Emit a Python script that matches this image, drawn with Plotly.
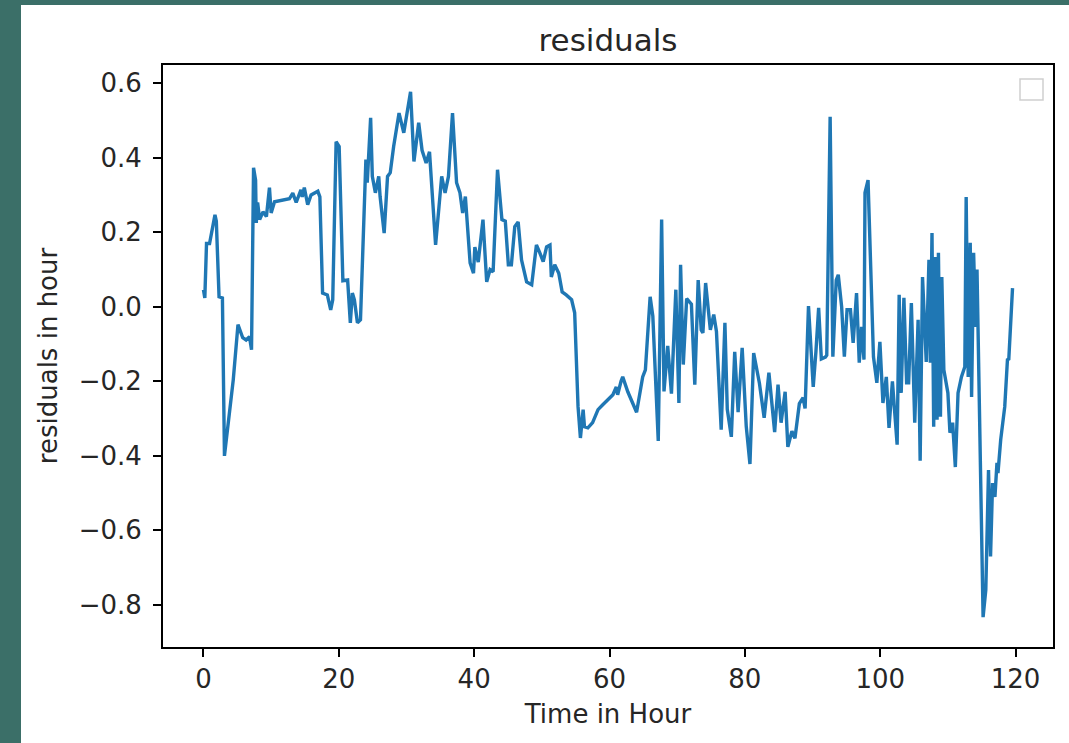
import plotly.graph_objects as go

time_hours = [
    0.0, 0.2, 0.45, 0.9, 1.7, 1.9, 2.3, 2.8, 3.1, 3.9, 4.4, 5.1, 5.8, 6.3, 6.8, 7.1,
    7.4, 7.7, 7.8, 8.0, 8.3, 8.8, 9.3, 9.75, 10.0, 10.5, 11.5, 12.7, 13.2, 13.7, 14.4,
    14.6, 14.9, 15.4, 15.9, 16.4, 16.9, 17.2, 17.6, 18.3, 18.8, 19.1, 19.6, 20.05, 20.6,
    21.3, 21.7, 22.0, 22.3, 22.75, 23.2, 24.0, 24.2, 24.7, 24.95, 25.4, 25.9, 26.1, 26.7,
    27.2, 27.6, 28.1, 28.9, 29.6, 30.1, 30.6, 31.1, 31.8, 32.3, 32.9, 33.4, 34.3, 34.8,
    35.2, 35.7, 36.2, 36.8, 37.4, 37.9, 38.3, 38.7, 39.4, 39.9, 40.1, 40.6, 41.3, 41.85,
    42.35, 42.8, 43.45, 44.1, 44.6, 45.05, 45.5, 46.0, 46.5, 47.0, 47.75, 48.5, 49.2,
    49.7, 50.2, 50.7, 51.2, 51.4, 51.9, 52.5, 53.0, 53.6, 54.4, 54.85, 55.35, 55.7, 56.1,
    56.3, 56.8, 57.5, 58.3, 59.0, 59.75, 60.5, 61.0, 61.2, 61.7, 61.95, 62.7, 63.4, 64.0,
    64.9, 65.3, 66.0, 66.4, 67.2, 67.7, 68.05, 68.6, 69.15, 69.8, 70.25, 70.5, 70.9, 71.4,
    72.1, 72.6, 73.1, 73.55, 73.8, 74.2, 74.9, 75.4, 75.8, 76.5, 77.05, 77.4, 78.0, 78.5,
    79.0, 79.6, 80.2, 80.75, 81.3, 82.15, 82.85, 83.55, 84.4, 84.9, 85.35, 85.95, 86.35,
    86.95, 87.4, 88.05, 88.6, 88.9, 89.4, 89.85, 90.1, 90.5, 90.9, 91.3, 91.9, 92.1, 92.6,
    93.0, 93.5, 93.8, 94.3, 94.7, 95.1, 95.6, 96.0, 96.5, 96.9, 97.25, 97.6, 97.75, 98.2,
    99.0, 99.5, 99.95, 100.4, 100.9, 101.3, 101.8, 102.5, 102.8, 103.1, 103.5, 103.9,
    104.2, 104.6, 105.1, 105.6, 105.9, 106.25, 106.8, 107.2, 107.4, 107.65, 107.9, 108.1,
    108.4, 108.6, 108.9, 109.1, 109.4, 110.0, 110.3, 110.7, 111.1, 111.5, 112.0, 112.5,
    112.7, 113.0, 113.3, 113.5, 113.8, 114.1, 114.3, 114.45, 115.2, 115.6, 116.0, 116.3,
    116.6, 116.95, 117.25, 117.4, 117.8, 118.4, 118.8, 119.0, 119.55,
]

residuals = [
    0.046, 0.024, 0.17, 0.17, 0.247, 0.23, 0.027, 0.024, -0.40, -0.277, -0.196, -0.048,
    -0.083, -0.089, -0.08, -0.115, 0.373, 0.34, 0.225, 0.28, 0.234, 0.255, 0.242, 0.32,
    0.252, 0.282, 0.285, 0.29, 0.305, 0.28, 0.314, 0.295, 0.32, 0.274, 0.30, 0.305, 0.31,
    0.295, 0.037, 0.032, -0.008, 0.019, 0.443, 0.43, 0.07, 0.072, -0.043, 0.037, 0.019,
    -0.043, -0.035, 0.395, 0.333, 0.507, 0.35, 0.306, 0.35, 0.296, 0.198, 0.35, 0.36,
    0.43, 0.52, 0.467, 0.52, 0.577, 0.39, 0.494, 0.42, 0.386, 0.416, 0.166, 0.268, 0.35,
    0.306, 0.35, 0.52, 0.333, 0.306, 0.252, 0.296, 0.118, 0.09, 0.16, 0.12, 0.234, 0.067,
    0.1, 0.094, 0.368, 0.234, 0.23, 0.113, 0.113, 0.215, 0.228, 0.126, 0.067, 0.059,
    0.166, 0.145, 0.121, 0.161, 0.166, 0.08, 0.113, 0.09, 0.04, 0.032, 0.019, -0.016,
    -0.268, -0.352, -0.276, -0.322, -0.325, -0.311, -0.276, -0.263, -0.25, -0.236, -0.215,
    -0.236, -0.2, -0.188, -0.228, -0.255, -0.283, -0.188, -0.169, 0.027, -0.025, -0.36,
    0.234, -0.227, -0.105, -0.233, 0.046, -0.258, 0.113, -0.155, 0.022, 0.007, -0.209,
    0.072, -0.062, -0.07, 0.064, -0.062, -0.021, -0.066, -0.33, -0.043, -0.275, -0.349,
    -0.121, -0.283, -0.11, -0.32, -0.422, -0.124, -0.205, -0.298, -0.177, -0.336, -0.209,
    -0.311, -0.228, -0.376, -0.334, -0.353, -0.26, -0.244, -0.273, 0.002, -0.13, -0.215,
    -0.12, -0.003, -0.14, -0.135, -0.13, 0.51, -0.134, 0.072, 0.086, 0.0, -0.134, -0.008,
    -0.008, -0.097, 0.037, -0.15, -0.054, -0.142, 0.306, 0.34, -0.134, -0.204, -0.094,
    -0.258, -0.188, -0.325, -0.2, -0.37, 0.032, -0.231, 0.024, -0.204, -0.204, 0.01,
    -0.311, -0.035, -0.413, 0.08, -0.148, 0.126, -0.15, 0.198, -0.322, 0.134, -0.303,
    0.145, -0.295, 0.08, -0.169, -0.231, -0.338, -0.311, -0.43, -0.231, -0.188, -0.161,
    0.295, -0.188, 0.172, -0.242, 0.145, -0.054, 0.1, -0.07, -0.833, -0.76, -0.438, -0.67,
    -0.473, -0.51, -0.419, -0.446, -0.357, -0.268, -0.142, -0.14, 0.05,
]

chart_title = "residuals"
x_label = "Time in Hour"
y_label = "residuals in hour"

W, H = 1069, 743
L, R, T, B = 163, 1053, 65, 647
pw, ph = R - L, B - T


def px_x(p):
    return (p - L) / pw


def px_y(p):
    return (B - p) / ph


text_color = "#262626"
font_family = "DejaVu Sans, Arial, sans-serif"
fs = 26

fig = go.Figure()
fig.add_trace(go.Scatter(
    x=time_hours, y=residuals, mode="lines",
    line=dict(color="#1f77b4", width=3.4),
    showlegend=False, hoverinfo="x+y",
))

shapes = [
    # white screenshot area over the teal slide background
    dict(type="rect", xref="paper", yref="paper",
         x0=px_x(21), x1=px_x(W + 5), y0=px_y(H + 5), y1=px_y(5),
         fillcolor="white", line=dict(width=0), layer="below"),
    # empty legend box (matplotlib legend with no handles)
    dict(type="rect", xref="paper", yref="paper",
         x0=px_x(1020), x1=px_x(1043), y0=px_y(100), y1=px_y(79),
         fillcolor="white", line=dict(color="#cfcfcf", width=1.5), layer="above"),
]

fig.update_layout(
    width=W, height=H,
    margin=dict(l=L, r=W - R, t=T, b=H - B),
    paper_bgcolor="#3b6f68",
    plot_bgcolor="white",
    shapes=shapes,
    font=dict(family=font_family, color=text_color, size=fs),
    title=dict(text=chart_title, x=0.5 * (L + R) / W,
               xanchor="center", xref="container", yref="container",
               y=1 - 40 / H, yanchor="middle",
               font=dict(size=31, color=text_color, family=font_family)),
    xaxis=dict(
        range=[-5.98, 125.53], tick0=0, dtick=20,
        showgrid=False, zeroline=False,
        showline=True, linecolor="black", linewidth=2, mirror=True,
        ticks="outside", ticklen=8, tickwidth=2, tickcolor="black",
        tickfont=dict(size=fs, color=text_color),
        title=dict(text=x_label, standoff=12, font=dict(size=fs, color=text_color)),
    ),
    yaxis=dict(
        range=[-0.913, 0.649], tick0=0, dtick=0.2, tickformat=".1f",
        showgrid=False, zeroline=False,
        showline=True, linecolor="black", linewidth=2, mirror=True,
        ticks="outside", ticklen=8, tickwidth=2, tickcolor="black",
        ticklabelstandoff=6,
        tickfont=dict(size=fs, color=text_color),
        title=dict(text=y_label, standoff=14, font=dict(size=fs, color=text_color)),
    ),
)

fig.write_html("out.html")
